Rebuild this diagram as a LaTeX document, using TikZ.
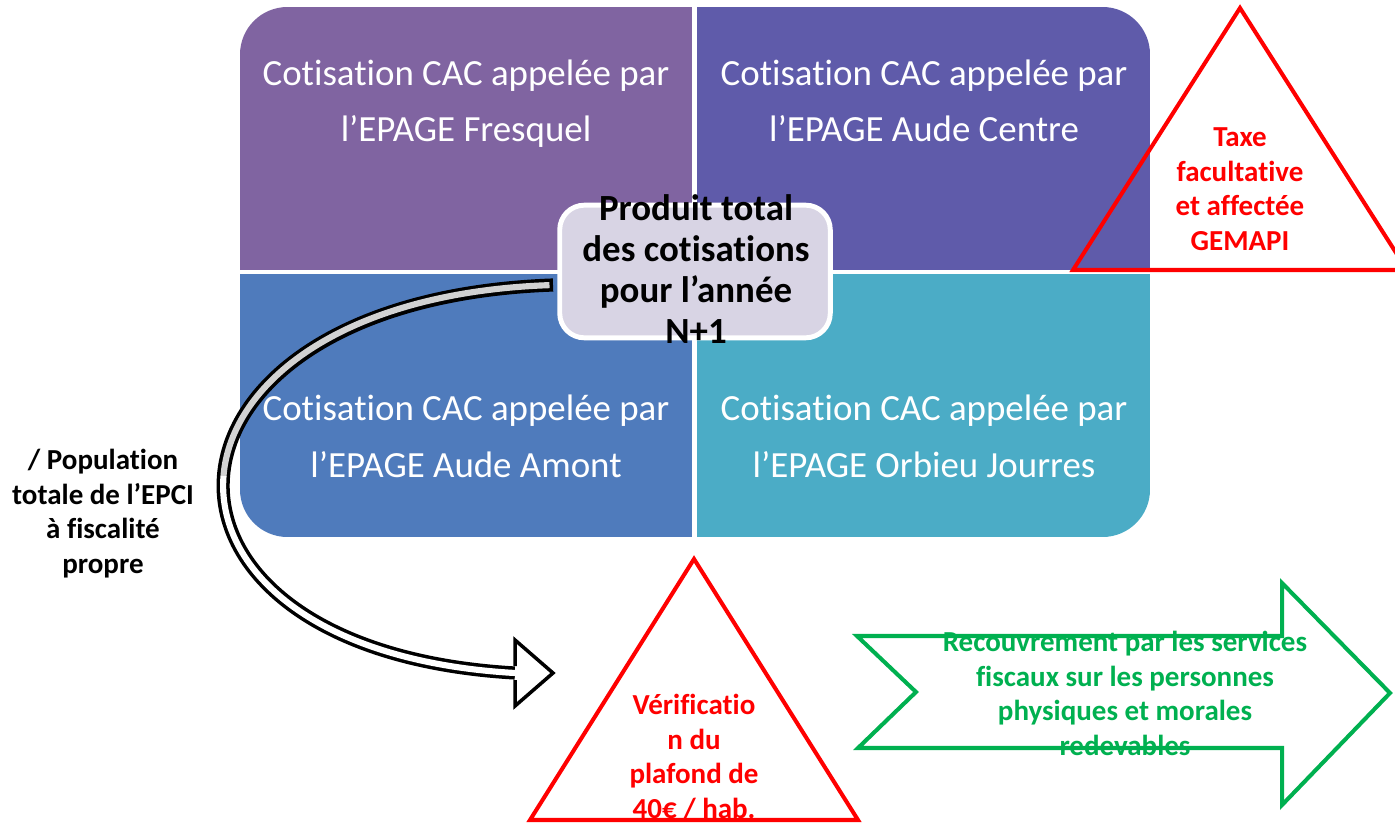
\documentclass[tikz,border=0pt]{standalone}
\usepackage{fontspec}
\setmainfont{Carlito}[Ligatures=NoCommon]
\usetikzlibrary{positioning}
\definecolor{QuadPurple}{RGB}{128,100,161}
\definecolor{QuadIndigo}{RGB}{95,91,170}
\definecolor{QuadBlue}{RGB}{79,123,188}
\definecolor{QuadCyan}{RGB}{75,172,198}
\definecolor{BoxLilac}{RGB}{216,212,228}
\definecolor{AlertRed}{RGB}{255,0,0}
\definecolor{TaxGreen}{RGB}{0,176,80}

\begin{document}
\begin{tikzpicture}[x=0.02cm, y=-0.02cm]
  \tikzset{QuadText/.style = {text=white, align=center, inner sep=0pt, anchor=base,
                              font=\fontsize{21}{32.3}\selectfont},
           NoteText/.style = {align=center, inner sep=0pt, anchor=base,
                              font=\fontsize{16.5}{19.6}\selectfont\bfseries},
           ProdBox/.style  = {shape=rectangle, rounded corners=14pt,
                              fill=BoxLilac, draw=white, line width=2.8pt,
                              minimum width=154pt, minimum height=75.5pt, inner sep=0pt},
           AlertTri/.style = {draw=AlertRed, line width=2.3pt},
           TaxArrow/.style = {draw=TaxGreen, line width=2.3pt, line join=miter}}
  \useasboundingbox (0,0) rectangle (1395,824);
  %%% QUADRANTS %%%
  \begin{scope}
    \clip[rounded corners=27pt] (240,7) rectangle (1150,537);
    \fill[QuadPurple] (240,7) rectangle (695,272);
    \fill[QuadIndigo] (695,7) rectangle (1150,272);
    \fill[QuadBlue] (240,272) rectangle (695,537);
    \fill[QuadCyan] (695,272) rectangle (1150,537);
    \draw[white, line width=2.8pt] (694.5,0) -- (694.5,540);
    \draw[white, line width=2.3pt] (235,272) -- (1155,272);
  \end{scope}
  % base = last line
  \node[QuadText] (fresquel) at (466,142) {Cotisation CAC appelée par\\l’EPAGE Fresquel};
  \node[QuadText] (centre) at (924,142) {Cotisation CAC appelée par\\l’EPAGE Aude Centre};
  \node[QuadText] (amont) at (466,477) {Cotisation CAC appelée par\\l’EPAGE Aude Amont};
  \node[QuadText] (orbieu) at (924,477) {Cotisation CAC appelée par\\l’EPAGE Orbieu Jourres};
  %%% PRODUIT TOTAL %%%
  \node[ProdBox] (prod) at (695,271.5) {};
  \node[NoteText, font=\fontsize{21}{23.3}\selectfont\bfseries] (prodtext) at (696,343)
       {Produit total\\des cotisations\\pour l’année\\N+1};
  %%% FLECHE COURBE %%%
  \coordinate (tail) at (553,285);
  \coordinate (bend) at (223.5,476);
  \coordinate (tip) at (515,673);
  \draw[line width=7.5pt] (tail) .. controls (341.5,292.5) and (230.75,383.75) .. (bend)
                                 .. controls (216.25,568.25) and (312.5,661.5) .. (tip);
  \draw[line width=3.5pt, gray!35, shorten <=2pt] (tail) .. controls (341.5,292.5) and (230.75,383.75) .. (bend);
  \draw[line width=3.5pt, white] (bend) .. controls (216.25,568.25) and (312.5,661.5) .. (tip);
  \filldraw[fill=white, line width=2pt, line join=miter] (515,666) -- (515,640) -- (553,673) -- (515,706) -- (515,680);
  \node[NoteText] (popul) at (103,573) {/ Population\\totale de l’EPCI\\à fiscalité\\propre};
  %%% TRIANGLES %%%
  \coordinate (taxtop) at (1240,8);
  \coordinate (taxleft) at (1073,270);
  \coordinate (taxright) at (1407,270);
  \draw[AlertTri] (taxtop) -- (taxleft) -- (taxright) -- cycle;
  \node[NoteText, text=AlertRed] (taxe) at (1240,250) {Taxe\\facultative\\et affectée\\GEMAPI};
  \coordinate (veriftop) at (694,559);
  \coordinate (verifleft) at (530,820);
  \coordinate (verifright) at (858,820);
  \node[NoteText, text=AlertRed] (verif) at (694,818) {Vérificatio\\n du\\plafond de\\40€ / hab.};
  \draw[AlertTri] (veriftop) -- (verifleft) -- (verifright) -- cycle;
  %%% FLECHE VERTE %%%
  \draw[TaxArrow] (857,636) -- (916,692) -- (858,748) -- (1282,748) -- (1282,805)
                  -- (1390,693) -- (1282,583) -- (1282,636) -- cycle;
  \node[NoteText, text=TaxGreen] (recouv) at (1125,755)
       {Recouvrement par les services\\fiscaux sur les personnes\\physiques et morales\\redevables};
\end{tikzpicture}
\end{document}
